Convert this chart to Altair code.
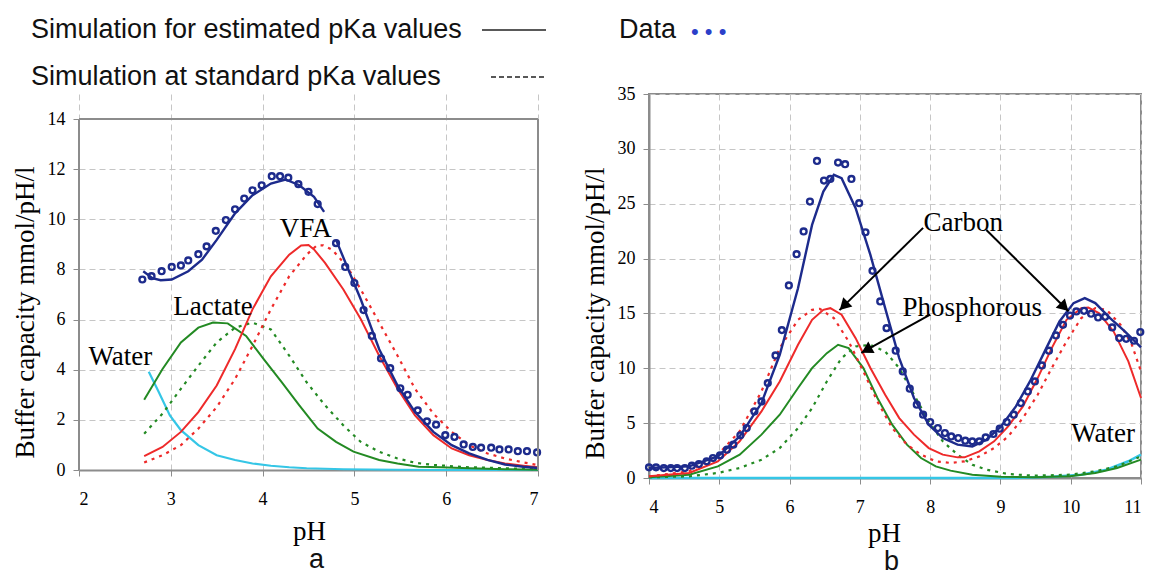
import altair as alt
import pandas as pd
import numpy as np

# ---------------- Panel a data ----------------
a_dots_ph = [2.69,2.79,2.90,3.01,3.11,3.19,3.30,3.39,3.49,3.60,3.70,3.80,3.89,3.99,4.10,4.19,4.28,4.39,4.50,4.60,
             4.80,4.90,5.00,5.10,5.19,5.29,5.39,5.50,5.58,5.69,5.79,5.89,5.99,6.09,6.19,6.29,6.38,6.49,6.58,6.68,
             6.78,6.88,6.99]
a_dots_v = [7.60,7.73,7.93,8.10,8.16,8.36,8.61,8.92,9.54,9.97,10.40,10.83,11.16,11.36,11.72,11.72,11.66,11.40,11.10,10.61,
            9.05,8.10,7.46,6.38,5.35,4.45,4.06,3.26,3.00,2.38,1.94,1.81,1.39,1.32,1.02,0.92,0.89,0.89,0.82,0.82,
            0.75,0.75,0.70]

a_blue1_ph = [2.70,2.80,2.89,3.01,3.19,3.34,3.50,3.70,3.89,4.09,4.25,4.40,4.56,4.67]
a_blue1_v = [7.93,7.65,7.57,7.60,7.93,8.39,9.18,10.24,10.96,11.43,11.59,11.36,10.90,10.30]
a_blue2_ph = [4.80,4.92,5.07,5.27,5.47,5.66,5.86,6.06,6.25,6.45,6.64,6.84,7.00]
a_blue2_v = [9.18,8.12,6.80,4.82,3.37,2.31,1.52,0.99,0.66,0.40,0.22,0.13,0.08]

a_red_ph = [2.71,2.91,3.11,3.30,3.50,3.70,3.89,4.09,4.29,4.42,4.50,4.56,4.68,4.88,5.07,5.27,5.47,5.66,5.86,6.06,6.25,6.45,6.64,6.84,7.00]
a_red_v = [0.55,0.92,1.52,2.31,3.37,4.82,6.41,7.73,8.59,8.96,8.98,8.80,8.26,7.20,6.01,4.56,3.24,2.18,1.39,0.86,0.59,0.40,0.26,0.17,0.11]
a_redstd_ph = [2.71,2.91,3.11,3.30,3.50,3.70,3.89,4.09,4.29,4.48,4.59,4.66,4.76,4.92,5.07,5.27,5.47,5.66,5.86,6.06,6.25,6.45,6.64,6.84,7.00]
a_redstd_v = [0.30,0.59,0.99,1.65,2.51,3.63,4.95,6.41,7.73,8.59,8.96,8.96,8.78,8.12,7.20,5.88,4.56,3.24,2.25,1.52,0.99,0.66,0.46,0.30,0.20]

a_green_ph = [2.71,2.91,3.11,3.30,3.46,3.62,3.82,4.01,4.21,4.40,4.60,4.80,4.99,5.27,5.47,5.70,5.94,6.25,6.64,7.00]
a_green_v = [2.80,4.03,5.09,5.68,5.88,5.85,5.35,4.43,3.50,2.58,1.65,1.12,0.73,0.40,0.26,0.13,0.11,0.07,0.03,0.01]
a_greenstd_ph = [2.71,2.91,3.11,3.30,3.50,3.70,3.89,4.09,4.29,4.48,4.68,4.88,5.07,5.27,5.47,5.66,5.86,6.25,6.64,7.00]
a_greenstd_v = [1.45,2.25,3.24,4.16,5.09,5.68,5.88,5.61,4.56,3.50,2.58,1.78,1.12,0.73,0.46,0.29,0.20,0.11,0.07,0.03]

a_water_ph = [2.76,2.87,2.99,3.11,3.30,3.50,3.70,3.89,4.09,4.29,4.48,4.88,5.47,6.00,7.00]
a_water_v = [3.92,3.10,2.18,1.59,0.99,0.59,0.40,0.26,0.17,0.11,0.07,0.03,0.01,0.0,0.0]

a_labels = ["Water", "Lactate", "VFA"]
a_labels_ph = [2.45, 3.46, 4.47]
a_labels_v = [4.49, 6.51, 9.60]

# ---------------- Panel b data ----------------
b_dots_ph = [4.0,4.10,4.21,4.31,4.40,4.51,4.61,4.71,4.82,4.91,5.01,5.11,5.20,5.30,5.39,5.50,5.60,5.69,5.80,5.89,
             5.99,6.10,6.20,6.29,6.39,6.49,6.58,6.69,6.79,6.88,6.99,7.08,7.18,7.29,7.38,7.51,7.61,7.71,7.81,7.90,
             8.00,8.11,8.21,8.30,8.40,8.50,8.60,8.70,8.79,8.90,8.99,9.09,9.19,9.29,9.39,9.49,9.59,9.69,9.79,9.89,
             9.99,10.08,10.19,10.29,10.39,10.49,10.59,10.69,10.79,10.90,10.99]
b_dots_v = [0.97,0.97,0.91,0.91,0.91,0.91,1.12,1.27,1.52,1.82,2.06,2.58,3.04,3.89,4.55,6.07,6.98,8.65,11.17,13.48,
            17.55,20.40,22.47,25.20,28.90,27.11,27.26,28.75,28.60,27.26,25.05,22.40,18.88,16.09,13.66,11.60,9.71,8.14,6.68,5.77,
            5.10,4.55,4.10,3.79,3.64,3.40,3.34,3.34,3.70,4.01,4.49,5.10,5.77,6.83,7.89,8.80,10.26,11.60,12.99,13.96,
            14.81,15.18,15.24,14.97,14.63,14.69,13.72,12.75,12.69,12.51,13.30]

b_blue_ph = [4.0,4.57,4.98,5.29,5.60,5.86,6.12,6.32,6.48,6.63,6.74,6.94,7.15,7.36,7.56,7.77,7.98,8.18,8.39,8.60,8.80,
             9.01,9.22,9.42,9.63,9.84,10.04,10.20,10.35,10.56,10.77,11.0]
b_blue_v = [0.91,1.06,1.97,3.79,6.83,11.23,17.30,23.07,26.11,27.63,27.32,24.59,20.34,15.48,10.93,7.29,4.86,3.64,3.04,2.88,3.49,
            4.71,6.53,8.80,11.54,14.27,15.94,16.39,15.94,14.57,13.36,11.90]

b_red_ph = [4.0,4.57,4.98,5.29,5.60,5.86,6.12,6.32,6.48,6.58,6.74,6.94,7.15,7.36,7.56,7.77,7.98,8.18,8.39,8.49,
            8.70,8.91,9.11,9.32,9.53,9.73,9.94,10.15,10.25,10.40,10.61,10.82,11.0]
b_red_v = [0.15,0.46,1.52,3.34,6.07,8.80,12.14,14.42,15.33,15.48,14.88,12.75,10.02,7.59,5.46,3.95,2.73,2.13,1.88,1.88,
           2.43,3.34,4.71,6.53,9.11,11.84,14.42,15.48,15.54,15.03,13.36,10.63,7.29]
b_redstd_ph = [4.0,4.57,4.98,5.29,5.60,5.86,6.12,6.32,6.43,6.63,6.84,7.05,7.25,7.46,7.67,7.87,8.08,8.29,8.49,8.70,
               8.91,9.11,9.32,9.53,9.73,9.94,10.15,10.35,10.51,10.71,10.87,11.0]
b_redstd_v = [0.15,0.61,2.13,4.25,7.89,11.84,14.42,15.33,15.42,14.57,12.45,9.71,6.98,4.55,3.04,2.13,1.52,1.37,1.52,1.97,
              2.73,3.79,5.46,7.59,10.02,12.45,14.57,15.48,15.33,13.96,12.14,9.71]

b_green_ph = [4.0,4.57,4.98,5.29,5.60,5.86,6.12,6.32,6.53,6.69,6.84,7.05,7.25,7.46,7.67,7.87,8.08,8.29,8.60,9.01,
              9.48,9.99,10.35,10.66,11.0]
b_green_v = [0.06,0.30,1.06,2.13,3.95,5.77,8.20,10.02,11.38,12.14,11.84,10.02,7.29,4.86,3.04,1.82,1.06,0.67,0.30,0.12,
             0.06,0.15,0.46,0.91,1.67]
b_greenstd_ph = [4.0,4.57,4.98,5.29,5.60,5.86,6.12,6.32,6.53,6.74,6.94,7.15,7.36,7.56,7.77,7.98,8.18,8.39,8.60,8.80,
                 9.11,9.48,9.99,10.35,10.66,11.0]
b_greenstd_v = [0.06,0.15,0.46,0.91,1.67,2.73,4.55,6.37,8.80,10.93,11.99,12.14,11.54,10.02,7.59,5.16,3.34,2.13,1.21,0.76,
                0.36,0.21,0.30,0.61,1.06,1.97]

b_water_ph = [4.0,9.22,9.73,10.15,10.51,10.82,11.0]
b_water_v = [0.0,0.0,0.12,0.30,0.76,1.52,2.13]

b_labels = ["Carbon", "Phosphorous", "Water"]
b_labels_ph = [8.47, 8.60, 10.46]
b_labels_v = [23.2, 15.5, 4.05]

arrow_from_ph = [7.90, 8.80, 8.00]
arrow_from_v = [22.8, 22.6, 14.9]
arrow_to_ph = [6.71, 9.97, 7.02]
arrow_to_v = [15.3, 15.2, 11.4]

legend_texts = ["Simulation for estimated pKa values", "Simulation at standard pKa values", "Data"]

# ---------------- style ----------------
NAVY = "#1d2b8c"
RED = "#ee2a2a"
GREEN = "#238a23"
CYAN = "#35c6e6"
GRID = "#c6c6c6"
FRAME = "#8c8c8c"
SERIF = "Liberation Serif"
SANS = "Liberation Sans"

# panel a: the view reaches above y=14 (to y=15) so that both panels share a top edge in the layout;
# the visible frame of panel a is drawn at y=14.
WA, HA, A_TOP = 459, 376, 15
WB, HB = 492, 384


def axis_x(values, title_x, title_y):
    return alt.Axis(values=values, title="pH", grid=True, gridDash=[6, 4], gridColor=GRID,
                    domainColor=FRAME, domainWidth=2, tickColor=FRAME, tickSize=6,
                    labelFont=SERIF, labelFontSize=18, labelColor="black", labelPadding=14,
                    titleFont=SERIF, titleFontSize=27, titleFontWeight="normal", titleColor="black",
                    titleX=title_x, titleY=title_y, titleAlign="center", titleBaseline="middle")


def axis_y(values, title_y, domain=True):
    return alt.Axis(values=values, title="Buffer capacity mmol/pH/l", grid=True, gridDash=[6, 4], gridColor=GRID,
                    domain=domain, domainColor=FRAME, domainWidth=2, tickColor=FRAME, tickSize=6,
                    labelFont=SERIF, labelFontSize=18, labelColor="black", labelPadding=8,
                    titleFont=SERIF, titleFontSize=27, titleFontWeight="normal", titleColor="black",
                    titleAngle=270, titleX=-40, titleY=title_y, titleAlign="center", titleBaseline="bottom")


def make_panel(xdom, ydom, xvals, yvals, title_x, title_y, xtitle_y, ydomain_line=True):
    X = alt.X("ph:Q", scale=alt.Scale(domain=xdom, nice=False, zero=False), axis=axis_x(xvals, title_x, xtitle_y))
    Y = alt.Y("v:Q", scale=alt.Scale(domain=ydom, nice=False), axis=axis_y(yvals, title_y, ydomain_line))

    def line(ph, v, color, dash=None, width=2.0):
        kw = dict(color=color, strokeWidth=width)
        if dash:
            kw["strokeDash"] = dash
        return alt.Chart(pd.DataFrame({"ph": ph, "v": v})).mark_line(**kw).encode(x=X, y=Y, order="ph:Q")

    def dots(ph, v):
        return alt.Chart(pd.DataFrame({"ph": ph, "v": v})).mark_point(
            shape="circle", filled=False, color=NAVY, strokeWidth=2.4, size=34, opacity=1).encode(x=X, y=Y)

    def labels(names, ph, v):
        return alt.Chart(pd.DataFrame({"ph": ph, "v": v, "t": names})).mark_text(
            font=SERIF, fontSize=27, color="black", align="center", baseline="middle").encode(x=X, y=Y, text="t:N")

    return X, Y, line, dots, labels


def free_text(t, x, y, size=27, color="#111", font=SANS):
    return alt.Chart(pd.DataFrame({"t": [t]})).mark_text(
        font=font, fontSize=size, color=color, align="left", baseline="middle").encode(
        x=alt.value(x), y=alt.value(y), text="t:N")


# ---------------- Panel a ----------------
Xa, Ya, line_a, dots_a, labels_a = make_panel([2, 7], [0, A_TOP], [2, 3, 4, 5, 6, 7], list(range(0, 15, 2)),
                                              230, 218, 61, ydomain_line=False)

DOT = [3, 5]
frame_df = pd.DataFrame({"ph": [2, 7, 2], "ph2": [2, 7, 7], "v": [0, 0, 14], "v2": [14, 14, 14]})
frame_a = alt.Chart(frame_df).mark_rule(color=FRAME, strokeWidth=2).encode(x=Xa, y=Ya, x2="ph2:Q", y2="v2:Q")

panel_a_layers = [
    line_a(a_water_ph, a_water_v, CYAN, width=2.2),
    line_a(a_greenstd_ph, a_greenstd_v, GREEN, DOT, 2.2),
    line_a(a_green_ph, a_green_v, GREEN, width=2.0),
    line_a(a_redstd_ph, a_redstd_v, RED, DOT, 2.2),
    line_a(a_red_ph, a_red_v, RED, width=2.0),
    line_a(a_blue1_ph, a_blue1_v, NAVY, width=2.4),
    line_a(a_blue2_ph, a_blue2_v, NAVY, width=2.4),
    dots_a(a_dots_ph, a_dots_v),
    labels_a(a_labels, a_labels_ph, a_labels_v),
    frame_a,
]

leg1 = free_text(legend_texts[0], -48, -64)
leg2 = free_text(legend_texts[1], -48, -17)
leg1_line = alt.Chart(pd.DataFrame({"t": [0]})).mark_rule(color="#222", strokeWidth=1.6).encode(
    x=alt.value(403), x2=alt.value(467), y=alt.value(-64))
leg2_line = alt.Chart(pd.DataFrame({"t": [0]})).mark_rule(color="#222", strokeWidth=1.6, strokeDash=[5, 3]).encode(
    x=alt.value(412), x2=alt.value(467), y=alt.value(-17))
lab_a = free_text("a", 230, 466)

panel_a = alt.layer(*panel_a_layers, leg1, leg2, leg1_line, leg2_line, lab_a).properties(
    width=WA, height=HA, view=alt.ViewBackground(stroke=None))

# ---------------- Panel b ----------------
Xb, Yb, line_b, dots_b, labels_b = make_panel([4, 11], [0, 35], list(range(4, 12)), list(range(0, 36, 5)),
                                              235, 219, 55)

px_ph = WB / 7.0
px_v = HB / 35.0
arr_rows, head_rows = [], []
for fx, fv, tx, tv in zip(arrow_from_ph, arrow_from_v, arrow_to_ph, arrow_to_v):
    dx = (tx - fx) * px_ph
    dy = -(tv - fv) * px_v
    L = float(np.hypot(dx, dy))
    ang = float(np.degrees(np.arctan2(dx, -dy)) % 360)
    hx = tx - (dx / L * 6) / px_ph
    hv = tv + (dy / L * 6) / px_v
    arr_rows.append({"ph": fx, "v": fv, "ph2": tx, "v2": tv})
    head_rows.append({"ph": hx, "v": hv, "ang": ang})

arrow_lines = alt.Chart(pd.DataFrame(arr_rows)).mark_rule(color="black", strokeWidth=2).encode(
    x=Xb, y=Yb, x2="ph2:Q", y2="v2:Q")
arrow_heads = alt.Chart(pd.DataFrame(head_rows)).mark_point(
    shape="triangle-up", filled=True, color="black", size=170, opacity=1).encode(
    x=Xb, y=Yb, angle=alt.Angle("ang:Q", scale=None))

panel_b_layers = [
    line_b(b_water_ph, b_water_v, CYAN, width=2.6),
    line_b(b_greenstd_ph, b_greenstd_v, GREEN, DOT, 2.2),
    line_b(b_green_ph, b_green_v, GREEN, width=2.0),
    line_b(b_redstd_ph, b_redstd_v, RED, DOT, 2.2),
    line_b(b_red_ph, b_red_v, RED, width=2.0),
    line_b(b_blue_ph, b_blue_v, NAVY, width=2.4),
    dots_b(b_dots_ph, b_dots_v),
    labels_b(b_labels, b_labels_ph, b_labels_v),
    arrow_lines,
    arrow_heads,
]

data_txt = free_text(legend_texts[2], -30, -64)
data_dots = free_text("\u2022 \u2022 \u2022", 42, -62, size=22, color="#2b3fc9")
lab_b = free_text("b", 235, 468)

panel_b = alt.layer(*panel_b_layers, data_txt, data_dots, lab_b).properties(width=WB, height=HB)

chart = alt.hconcat(panel_a, panel_b, spacing=32).properties(
    padding={"left": 10, "top": 15, "right": 0, "bottom": 0},
    background="white",
).configure_view(stroke=FRAME, strokeWidth=2)

chart.save("out.html", embed_options={"renderer": "svg", "actions": False})
